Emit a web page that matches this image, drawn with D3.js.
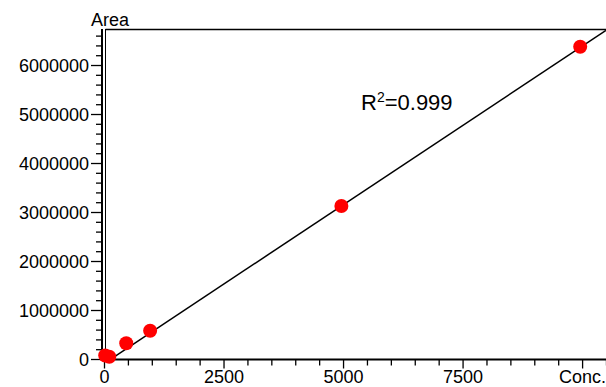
<!DOCTYPE html>
<html><head><meta charset="utf-8">
<script src="https://cdn.jsdelivr.net/npm/d3@7/dist/d3.min.js"></script>
<style>
html,body{margin:0;padding:0;background:#fff;}
svg text{font-family:"Liberation Sans",Arial,sans-serif;fill:#000;}
</style></head>
<body>
<svg id="c" width="606" height="387"></svg>
<script>
// Data
const conc = [25, 110, 465, 965, 4965, 9960];
const area = [70000, 45000, 320000, 578000, 3122000, 6373000];
const xTicks = [0, 2500, 5000, 7500];
const xTickLabels = ["0", "2500", "5000", "7500"];
const yTicks = [0, 1000000, 2000000, 3000000, 4000000, 5000000, 6000000];
const yTickLabels = ["0", "1000000", "2000000", "3000000", "4000000", "5000000", "6000000"];
const fitSlope = 648;
const fitIntercept = -95000;
const r2Text = "0.999";

const svg = d3.select("#c");
const x = d3.scaleLinear().domain([0, 10500]).range([104, 606]);
const y = d3.scaleLinear().domain([0, 6735000]).range([359, 29]);

// frame (top + inner left line)
svg.append("line").attr("x1", 105.5).attr("x2", 606).attr("y1", 29.5).attr("y2", 29.5)
  .attr("stroke", "#000").attr("stroke-width", 1.6);
svg.append("line").attr("x1", 105.5).attr("x2", 105.5).attr("y1", 29).attr("y2", 359)
  .attr("stroke", "#000").attr("stroke-width", 1);

// minor ticks
const xMinor = d3.range(0, 10501, 500).filter(v => v % 2500 !== 0);
const yMinor = d3.range(0, 6700001, 200000).filter(v => v % 1000000 !== 0);

const gx = svg.append("g").attr("transform", "translate(0,359.5)");
gx.call(d3.axisBottom(x).tickValues(xMinor).tickSize(6).tickFormat(""));
gx.append("g").call(d3.axisBottom(x).tickValues(xTicks.concat([10000])).tickSize(9)
  .tickFormat((d, i) => i < xTickLabels.length ? xTickLabels[i] : "Conc.").tickPadding(5));
gx.selectAll("path.domain").remove();
gx.selectAll("line").attr("stroke", "#000").attr("stroke-width", 1.3);
gx.selectAll("text").attr("font-size", 18).attr("dy", null).attr("y", 23.5);

const gy = svg.append("g").attr("transform", "translate(102,0)");
gy.call(d3.axisLeft(y).tickValues(yMinor).tickSize(6).tickFormat(""));
gy.append("g").call(d3.axisLeft(y).tickValues(yTicks).tickSize(11)
  .tickFormat((d, i) => yTickLabels[i]).tickPadding(2));
gy.selectAll("path.domain").remove();
gy.selectAll("line").attr("stroke", "#000").attr("stroke-width", 1.3);
gy.selectAll("text").attr("font-size", 18).attr("dy", "0.36em");

// axis lines
svg.append("line").attr("x1", 102).attr("x2", 102).attr("y1", 29).attr("y2", 360.5)
  .attr("stroke", "#000").attr("stroke-width", 2);
svg.append("line").attr("x1", 101).attr("x2", 606).attr("y1", 359.5).attr("y2", 359.5)
  .attr("stroke", "#000").attr("stroke-width", 2);

// axis title
svg.append("text").attr("x", 91).attr("y", 26).attr("font-size", 18).text("Area");

// clip region
svg.append("clipPath").attr("id", "pa").append("rect")
  .attr("x", 104).attr("y", 29).attr("width", 502).attr("height", 331);

// fit line
svg.append("line").attr("clip-path", "url(#pa)")
  .attr("x1", x(0)).attr("y1", y(fitIntercept))
  .attr("x2", x(10500)).attr("y2", y(fitSlope * 10500 + fitIntercept))
  .attr("stroke", "#000").attr("stroke-width", 1.5);

// points
svg.selectAll("circle.pt").data(conc).enter().append("circle")
  .attr("class", "pt")
  .attr("cx", d => x(d)).attr("cy", (d, i) => y(area[i]))
  .attr("r", 7).attr("fill", "#ff0000");

// R^2 label
const t = svg.append("text").attr("x", 361).attr("y", 110).attr("font-size", 22);
t.append("tspan").text("R");
t.append("tspan").attr("font-size", 14).attr("dy", -8).text("2");
t.append("tspan").attr("dy", 8).text("=" + r2Text);
</script>
</body></html>
